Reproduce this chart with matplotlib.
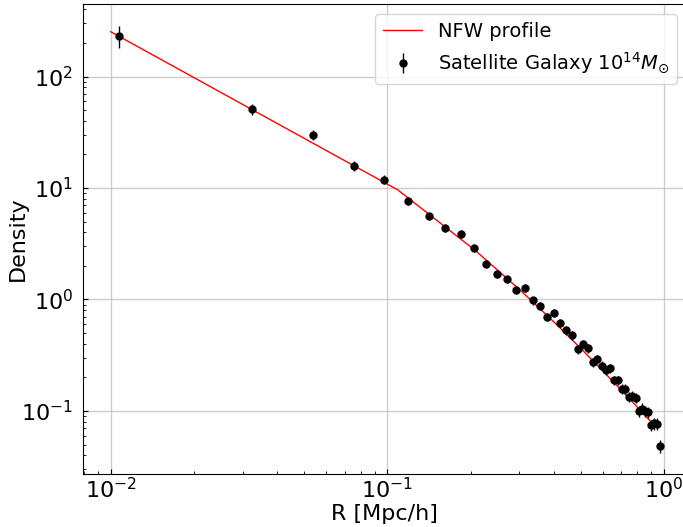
import matplotlib
matplotlib.use('Agg')
import matplotlib.pyplot as plt

# データ
r = [0.0107, 0.0324, 0.0540, 0.0757, 0.0973, 0.119, 0.141, 0.162, 0.184, 0.206,
     0.227, 0.249, 0.270, 0.292, 0.314, 0.335, 0.357, 0.379, 0.400, 0.422,
     0.444, 0.465, 0.487, 0.509, 0.530, 0.552, 0.574, 0.595, 0.617, 0.639,
     0.660, 0.682, 0.703, 0.725, 0.747, 0.768, 0.790, 0.812, 0.833, 0.855,
     0.877, 0.898, 0.920, 0.942, 0.963]
density = [232, 50.8, 30.1, 15.8, 11.9, 7.64, 5.57, 4.38, 3.89, 2.88,
           2.07, 1.69, 1.52, 1.22, 1.27, 0.98, 0.88, 0.70, 0.757, 0.615,
           0.529, 0.477, 0.357, 0.396, 0.365, 0.273, 0.292, 0.255, 0.233, 0.242,
           0.188, 0.188, 0.158, 0.157, 0.134, 0.137, 0.131, 0.100, 0.105, 0.099,
           0.098, 0.0748, 0.0776, 0.0763, 0.0485]
density_err = [53, 5.5, 3.0, 1.5, 1.1, 0.65, 0.45, 0.35, 0.3, 0.22,
               0.16, 0.13, 0.12, 0.095, 0.1, 0.08, 0.07, 0.06, 0.062, 0.052,
               0.045, 0.041, 0.032, 0.035, 0.033, 0.025, 0.027, 0.024, 0.022, 0.023,
               0.018, 0.018, 0.016, 0.016, 0.014, 0.014, 0.014, 0.011, 0.012, 0.011,
               0.011, 0.009, 0.0095, 0.0095, 0.0065]

# NFWプロファイル（線）
r_nfw = [0.01, 0.109, 0.208, 0.307, 0.406, 0.504, 0.603, 0.702, 0.801, 0.900]
rho_nfw = [252, 9.62, 2.748, 1.169, 0.606, 0.3566, 0.2266, 0.1530, 0.1081, 0.0793]

fig = plt.figure(figsize=(6.83, 5.27), dpi=100)
ax = fig.add_axes([0.1215, 0.1006, 0.884, 0.8918])

ax.plot(r_nfw, rho_nfw, color='red', lw=1.0, label='NFW profile')
ax.errorbar(r, density, yerr=density_err, fmt='o', color='black', ms=5,
            elinewidth=1.0, label=r'Satellite Galaxy $10^{14}M_{\odot}$')

ax.set_xscale('log')
ax.set_yscale('log')
ax.set_xlim(0.00794, 1.208)
ax.set_ylim(0.0272, 447)
ax.grid(True, which='major', color='#cccccc', lw=1.0)
ax.set_axisbelow(True)
ax.tick_params(which='both', direction='in', labelsize=16)
ax.tick_params(axis='y', pad=7)
ax.tick_params(axis='x', pad=2)
ax.set_xlabel('R [Mpc/h]', fontsize=16)
ax.set_ylabel('Density', fontsize=16)
ax.xaxis.set_label_coords(0.5, -0.064)
ax.yaxis.set_label_coords(-0.0911, 0.5)
ax.legend(loc='upper right', fontsize=14)

fig.savefig('out.png', dpi=100)
